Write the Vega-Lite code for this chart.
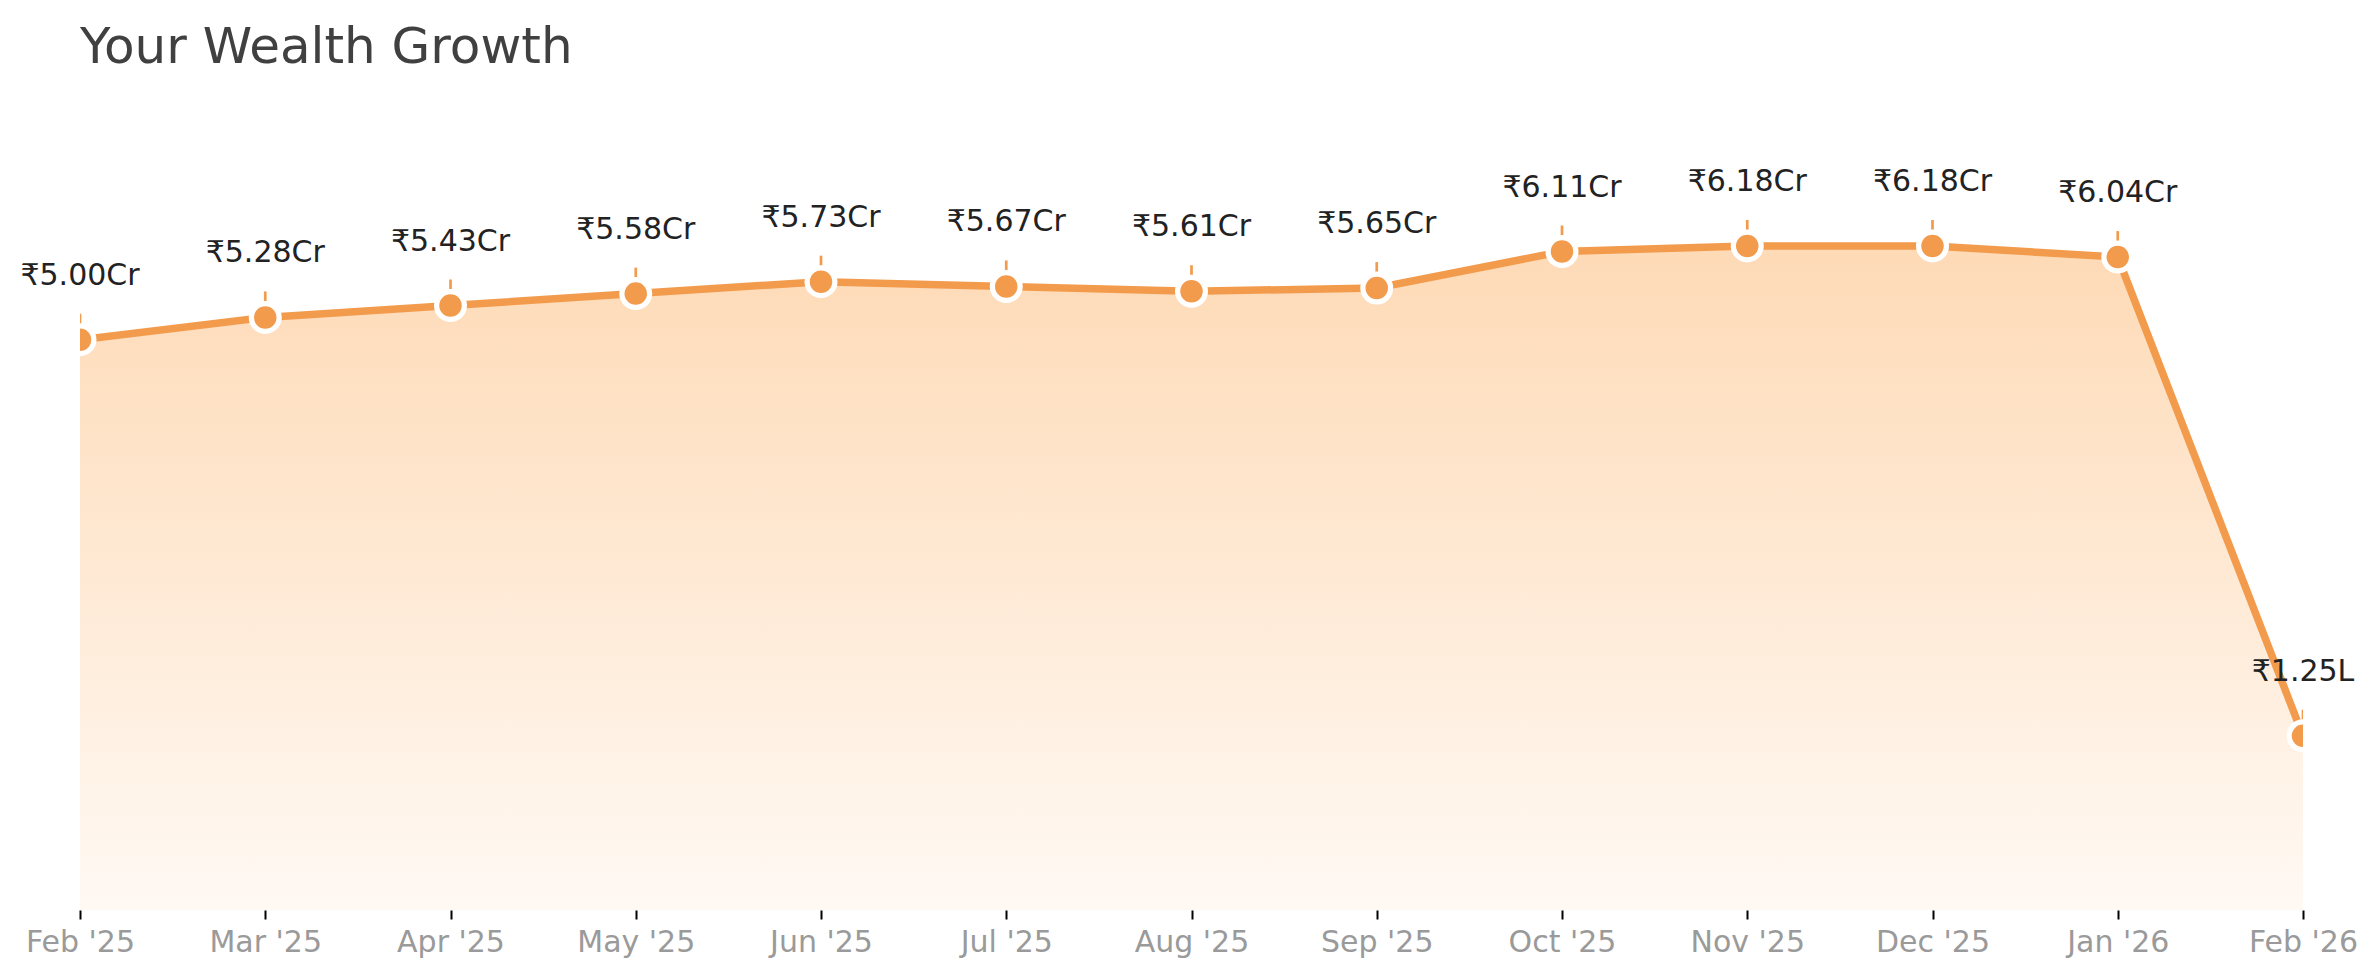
{
  "$schema": "https://vega.github.io/schema/vega-lite/v6.json",
  "autosize": {"type": "none"},
  "width": 2223,
  "height": 811,
  "padding": {"left": 80, "top": 99, "right": 76, "bottom": 69},
  "background": "white",
  "config": {"view": {"stroke": null}},
  "title": {
    "text": "Your Wealth Growth",
    "anchor": "start",
    "frame": "group",
    "font": "DejaVu Sans",
    "fontSize": 50,
    "fontWeight": "normal",
    "color": "#404040",
    "baseline": "alphabetic",
    "offset": 39,
    "dy": 53
  },
  "data": {
    "values": [
      {"month": "Feb '25", "value": 5.00, "label": "₹5.00Cr"},
      {"month": "Mar '25", "value": 5.28, "label": "₹5.28Cr"},
      {"month": "Apr '25", "value": 5.43, "label": "₹5.43Cr"},
      {"month": "May '25", "value": 5.58, "label": "₹5.58Cr"},
      {"month": "Jun '25", "value": 5.73, "label": "₹5.73Cr"},
      {"month": "Jul '25", "value": 5.67, "label": "₹5.67Cr"},
      {"month": "Aug '25", "value": 5.61, "label": "₹5.61Cr"},
      {"month": "Sep '25", "value": 5.65, "label": "₹5.65Cr"},
      {"month": "Oct '25", "value": 6.11, "label": "₹6.11Cr"},
      {"month": "Nov '25", "value": 6.18, "label": "₹6.18Cr"},
      {"month": "Dec '25", "value": 6.18, "label": "₹6.18Cr"},
      {"month": "Jan '26", "value": 6.04, "label": "₹6.04Cr"},
      {"month": "Feb '26", "value": 0.0125, "label": "₹1.25L"}
    ]
  },
  "encoding": {
    "x": {
      "field": "month",
      "type": "ordinal",
      "sort": null,
      "scale": {"type": "point", "padding": 0},
      "axis": {
        "title": null,
        "labelAngle": 0,
        "labelFont": "DejaVu Sans",
        "labelFontSize": 30,
        "labelColor": "#9a9a9a",
        "labelPadding": 8,
        "domain": false,
        "grid": false,
        "ticks": true,
        "tickColor": "#000000",
        "tickSize": 9,
        "tickWidth": 2
      }
    },
    "y": {
      "field": "value",
      "type": "quantitative",
      "scale": {"domain": [-2.18, 8.03], "nice": false, "zero": false},
      "axis": null
    }
  },
  "layer": [
    {
      "mark": {
        "type": "area",
        "clip": true,
        "color": {
          "gradient": "linear",
          "x1": 0, "x2": 0, "y1": 0, "y2": 1,
          "stops": [
            {"offset": 0, "color": "#fedab6"},
            {"offset": 1, "color": "#fff9f4"}
          ]
        }
      },
      "encoding": {"y2": {"datum": -2.18}}
    },
    {
      "mark": {"type": "rule", "clip": true, "color": "#f39b4c", "strokeWidth": 2.7, "y2Offset": -26},
      "encoding": {"y2": {"field": "value"}}
    },
    {
      "mark": {"type": "line", "clip": true, "color": "#f39b4c", "strokeWidth": 7.5}
    },
    {
      "mark": {"type": "point", "clip": true, "filled": true, "shape": "circle", "fill": "#f39b4c", "stroke": "#ffffff", "strokeWidth": 5.25, "size": 770, "opacity": 1, "fillOpacity": 1, "strokeOpacity": 1}
    },
    {
      "mark": {"type": "text", "font": "DejaVu Sans", "fontSize": 30, "color": "#222222", "baseline": "alphabetic", "align": "center", "dy": -55},
      "encoding": {"text": {"field": "label"}}
    }
  ]
}
